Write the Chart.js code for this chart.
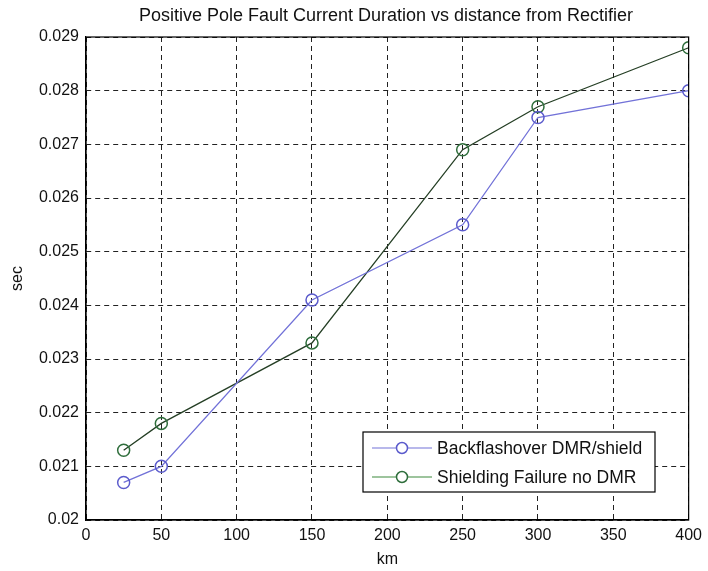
<!DOCTYPE html>
<html>
<head>
<meta charset="utf-8">
<script src="https://cdn.jsdelivr.net/npm/chart.js@4.4.1/dist/chart.umd.min.js"></script>
<style>
  html, body { margin: 0; padding: 0; background: #ffffff; }
  #wrap { width: 708px; height: 571px; position: relative; }
</style>
</head>
<body>
<div id="wrap"><canvas id="c" width="708" height="571"></canvas></div>
<script>
// ---- data ----
const chartTitle = 'Positive Pole Fault Current Duration vs distance from Rectifier';
const xAxisTitle = 'km';
const yAxisTitle = 'sec';
const distanceKm = [25, 50, 150, 250, 300, 400];
const backflashoverLabel = 'Backflashover DMR/shield';
const backflashover = [0.0207, 0.0210, 0.0241, 0.0255, 0.0275, 0.0280];
const shieldingLabel = 'Shielding Failure no DMR';
const shielding = [0.0213, 0.0218, 0.0233, 0.0269, 0.0277, 0.0288];
const xTickValues = [0, 50, 100, 150, 200, 250, 300, 350, 400];
const xTickLabels = ['0', '50', '100', '150', '200', '250', '300', '350', '400'];
const yTickValues = [0.020, 0.021, 0.022, 0.023, 0.024, 0.025, 0.026, 0.027, 0.028, 0.029];
const yTickLabels = ['0.02', '0.021', '0.022', '0.023', '0.024', '0.025', '0.026', '0.027', '0.028', '0.029'];

const FONT = '"Liberation Sans", Arial, Helvetica, sans-serif';
const blueLine = '#7272d8';
const blueMarker = '#5b5bcc';
const greenLine = '#253f25';
const greenMarker = '#2f6e3c';
const greenLegendLine = '#3c8a3c';

const overlay = {
  id: 'overlay',
  afterDraw(chart) {
    const ctx = chart.ctx;
    const a = chart.chartArea;
    ctx.save();
    // frame
    ctx.strokeStyle = '#000';
    ctx.lineWidth = 1.2;
    ctx.setLineDash([]);
    ctx.strokeRect(a.left, a.top, a.right - a.left, a.bottom - a.top);
    // title
    ctx.fillStyle = '#111';
    ctx.font = '18px ' + FONT;
    ctx.textAlign = 'center';
    ctx.textBaseline = 'middle';
    ctx.fillText(chartTitle, 386, 16);
    // legend
    const lx = 363, ly = 432, lw = 292, lh = 60;
    ctx.fillStyle = '#fff';
    ctx.fillRect(lx, ly, lw, lh);
    ctx.strokeStyle = '#000';
    ctx.lineWidth = 1.2;
    ctx.strokeRect(lx, ly, lw, lh);
    const rows = [
      { label: chart.data.datasets[0].label, line: blueLine, marker: blueMarker, y: ly + 16 },
      { label: chart.data.datasets[1].label, line: greenLegendLine, marker: greenMarker, y: ly + 45 }
    ];
    rows.forEach(r => {
      ctx.strokeStyle = r.line;
      ctx.lineWidth = 1.2;
      ctx.beginPath();
      ctx.moveTo(lx + 9, r.y);
      ctx.lineTo(lx + 69, r.y);
      ctx.stroke();
      ctx.strokeStyle = r.marker;
      ctx.lineWidth = 1.5;
      ctx.fillStyle = '#fff';
      ctx.beginPath();
      ctx.arc(lx + 39, r.y, 5.5, 0, Math.PI * 2);
      ctx.fill();
      ctx.stroke();
      ctx.fillStyle = '#111';
      ctx.font = '17.5px ' + FONT;
      ctx.textAlign = 'left';
      ctx.textBaseline = 'middle';
      ctx.fillText(r.label, lx + 74, r.y + 1);
    });
    ctx.restore();
  }
};

new Chart(document.getElementById('c'), {
  type: 'line',
  data: {
    datasets: [
      {
        label: backflashoverLabel,
        data: distanceKm.map((x, i) => ({ x: x, y: backflashover[i] })),
        borderColor: blueLine,
        borderWidth: 1.3,
        pointStyle: 'circle',
        pointRadius: 6,
        pointBorderWidth: 1.5,
        pointBorderColor: blueMarker,
        pointBackgroundColor: 'rgba(0,0,0,0)',
        tension: 0,
        fill: false
      },
      {
        label: shieldingLabel,
        data: distanceKm.map((x, i) => ({ x: x, y: shielding[i] })),
        borderColor: greenLine,
        borderWidth: 1.3,
        pointStyle: 'circle',
        pointRadius: 6,
        pointBorderWidth: 1.5,
        pointBorderColor: greenMarker,
        pointBackgroundColor: 'rgba(0,0,0,0)',
        tension: 0,
        fill: false
      }
    ]
  },
  options: {
    responsive: false,
    animation: false,
    layout: { padding: { left: 0, right: 18, top: 37, bottom: 0 } },
    plugins: {
      legend: { display: false },
      title: { display: false },
      tooltip: { enabled: false }
    },
    scales: {
      x: {
        type: 'linear',
        min: 0,
        max: 400,
        afterBuildTicks: s => { s.ticks = xTickValues.map(v => ({ value: v })); },
        afterFit: s => { s.height = 51; },
        ticks: {
          callback: (v, i) => xTickLabels[i],
          color: '#111',
          font: { family: FONT, size: 16 },
          padding: 6,
          maxRotation: 0,
          autoSkip: false
        },
        grid: { color: '#222', lineWidth: 1, drawTicks: false },
        border: { display: true, color: '#000', width: 1.2, dash: [5, 4] },
        title: {
          display: true,
          text: xAxisTitle,
          color: '#111',
          font: { family: FONT, size: 16 },
          padding: { top: 0, bottom: 2 }
        }
      },
      y: {
        type: 'linear',
        min: 0.02,
        max: 0.029,
        afterBuildTicks: s => { s.ticks = yTickValues.map(v => ({ value: v })); },
        afterFit: s => { s.width = 86; },
        ticks: {
          callback: (v, i) => yTickLabels[i],
          color: '#111',
          font: { family: FONT, size: 16 },
          padding: 7,
          autoSkip: false
        },
        grid: { color: '#222', lineWidth: 1, drawTicks: false },
        border: { display: true, color: '#000', width: 1.2, dash: [5, 4] },
        title: {
          display: true,
          text: yAxisTitle,
          color: '#111',
          font: { family: FONT, size: 16 },
          padding: { top: 8, bottom: 0 }
        }
      }
    }
  },
  plugins: [overlay]
});
</script>
</body>
</html>
